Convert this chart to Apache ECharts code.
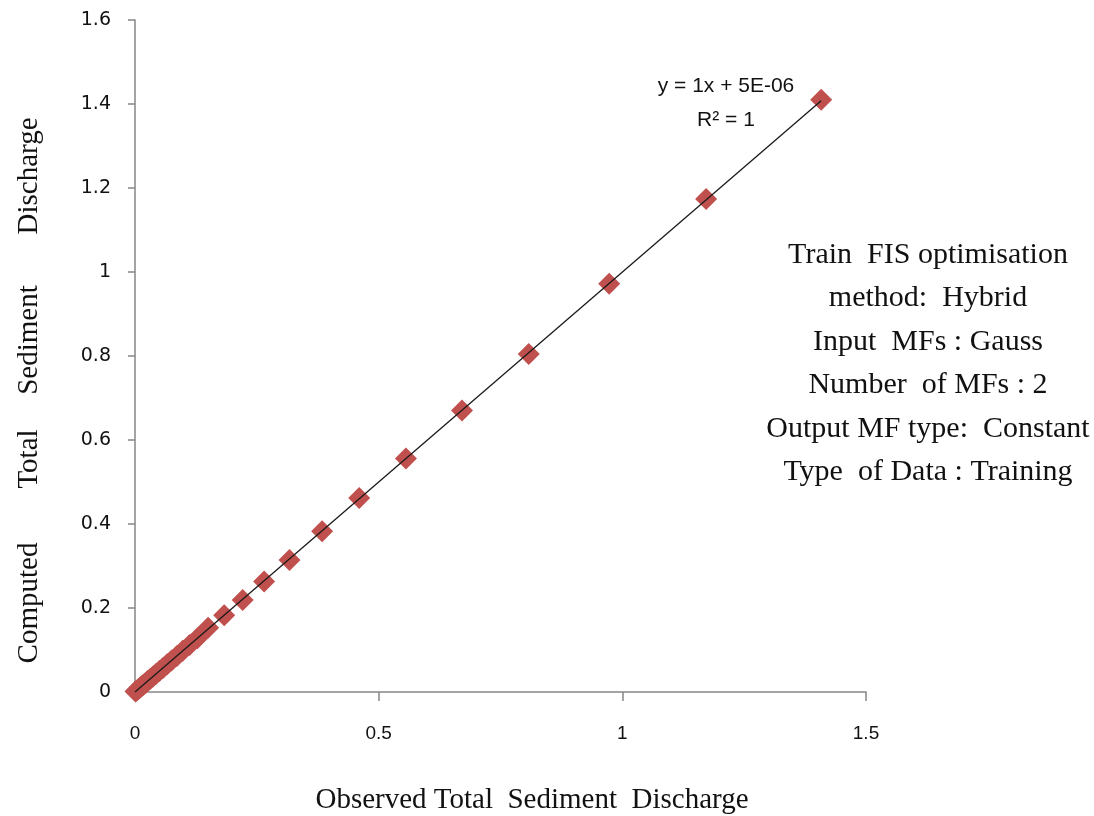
<!DOCTYPE html>
<html>
<head>
<meta charset="utf-8">
<script src="https://cdn.jsdelivr.net/npm/echarts@6/dist/echarts.min.js"></script>
<style>html,body{margin:0;padding:0;background:#fff}#c{width:1094px;height:816px}</style>
</head>
<body>
<div id="c"></div>
<script>
var observed = [1.408, 1.172, 0.973, 0.808, 0.671, 0.556, 0.460, 0.384, 0.317, 0.265, 0.221, 0.183, 0.150, 0.128, 0.112, 0.098, 0.086, 0.075, 0.066, 0.058, 0.050, 0.043, 0.037, 0.031, 0.026, 0.021, 0.017, 0.013, 0.009, 0.006, 0.003, 0.001];
var computed = [1.410, 1.174, 0.972, 0.805, 0.670, 0.556, 0.462, 0.383, 0.314, 0.263, 0.219, 0.183, 0.153, 0.128, 0.112, 0.098, 0.086, 0.075, 0.066, 0.058, 0.050, 0.043, 0.037, 0.031, 0.026, 0.021, 0.017, 0.013, 0.009, 0.006, 0.003, 0.001];
var trendSlope = 1;
var trendIntercept = 0.000005;
var xTicks = [0, 0.5, 1, 1.5];
var yTicks = [0, 0.2, 0.4, 0.6, 0.8, 1, 1.2, 1.4, 1.6];
var xTitle = 'Observed Total  Sediment  Discharge';
var yTitleWords = ['Computed', 'Total', 'Sediment', 'Discharge'];
var annotationLines = ['Train  FIS optimisation', 'method:  Hybrid', 'Input  MFs : Gauss', 'Number  of MFs : 2', 'Output MF type:  Constant', 'Type  of Data : Training'];
var equationText = 'y = 1x + 5E-06';
var r2Text = 'R\u00b2 = 1';

var points = observed.map(function (x, i) { return [x, computed[i]]; });
var xmax = Math.max.apply(null, observed);
var trend = [[0, trendIntercept], [xmax, trendSlope * xmax + trendIntercept]];

// layout: vertical centres of the y-title words (bottom to top)
var yTitleCentres = [603, 459, 340, 176];

var chart = echarts.init(document.getElementById('c'));
var axisGray = '#868686';
var ink = '#111111';
chart.setOption({
  animation: false,
  grid: { left: 135, right: 228, top: 20, bottom: 124, containLabel: false, outerBoundsMode: 'none' },
  xAxis: {
    type: 'value', min: xTicks[0], max: xTicks[xTicks.length - 1], interval: 0.5,
    axisLine: { lineStyle: { color: axisGray, width: 1.5 } },
    axisTick: { show: true, length: 9, lineStyle: { color: axisGray, width: 1.5 } },
    axisLabel: { margin: 32, fontFamily: 'Liberation Sans', fontSize: 19, color: ink,
      formatter: function (v) { return String(v); } },
    splitLine: { show: false }
  },
  yAxis: {
    type: 'value', min: yTicks[0], max: yTicks[yTicks.length - 1], interval: 0.2,
    axisLine: { show: true, lineStyle: { color: axisGray, width: 1.5 } },
    axisTick: { show: true, length: 7, lineStyle: { color: axisGray, width: 1.5 } },
    axisLabel: { margin: 24, fontFamily: 'DejaVu Sans', fontSize: 19, color: ink,
      formatter: function (v) { return String(Math.round(v * 10) / 10); } },
    splitLine: { show: false }
  },
  series: [
    {
      type: 'line', data: trend, symbol: 'none', silent: true, z: 3,
      lineStyle: { color: '#1a1a1a', width: 1.3 }
    },
    {
      type: 'scatter', data: points, symbol: 'diamond', symbolSize: 22, z: 2,
      itemStyle: { color: '#c0504d', opacity: 1 }
    }
  ],
  graphic: [
    { type: 'text', position: [532, 800], style: { text: xTitle, font: '29px "Liberation Serif"', fill: ink, textAlign: 'center', textVerticalAlign: 'middle' } },
    { type: 'text', position: [726, 86], style: { text: equationText, font: '21px "Liberation Sans"', fill: ink, textAlign: 'center', textVerticalAlign: 'middle' } },
    { type: 'text', position: [726, 120], style: { text: r2Text, font: '21px "Liberation Sans"', fill: ink, textAlign: 'center', textVerticalAlign: 'middle' } }
  ].concat(yTitleWords.map(function (w, i) {
    return { type: 'text', position: [29, yTitleCentres[i]], rotation: Math.PI / 2,
      style: { text: w, font: '29px "Liberation Serif"', fill: ink, textAlign: 'center', textVerticalAlign: 'middle' } };
  })).concat(annotationLines.map(function (t, i) {
    return { type: 'text', style: { text: t, font: '30px "Liberation Serif"', fill: ink, textAlign: 'center', textVerticalAlign: 'middle' },
      position: [928, 255 + i * 43.5] };
  }))
});
</script>
</body>
</html>
